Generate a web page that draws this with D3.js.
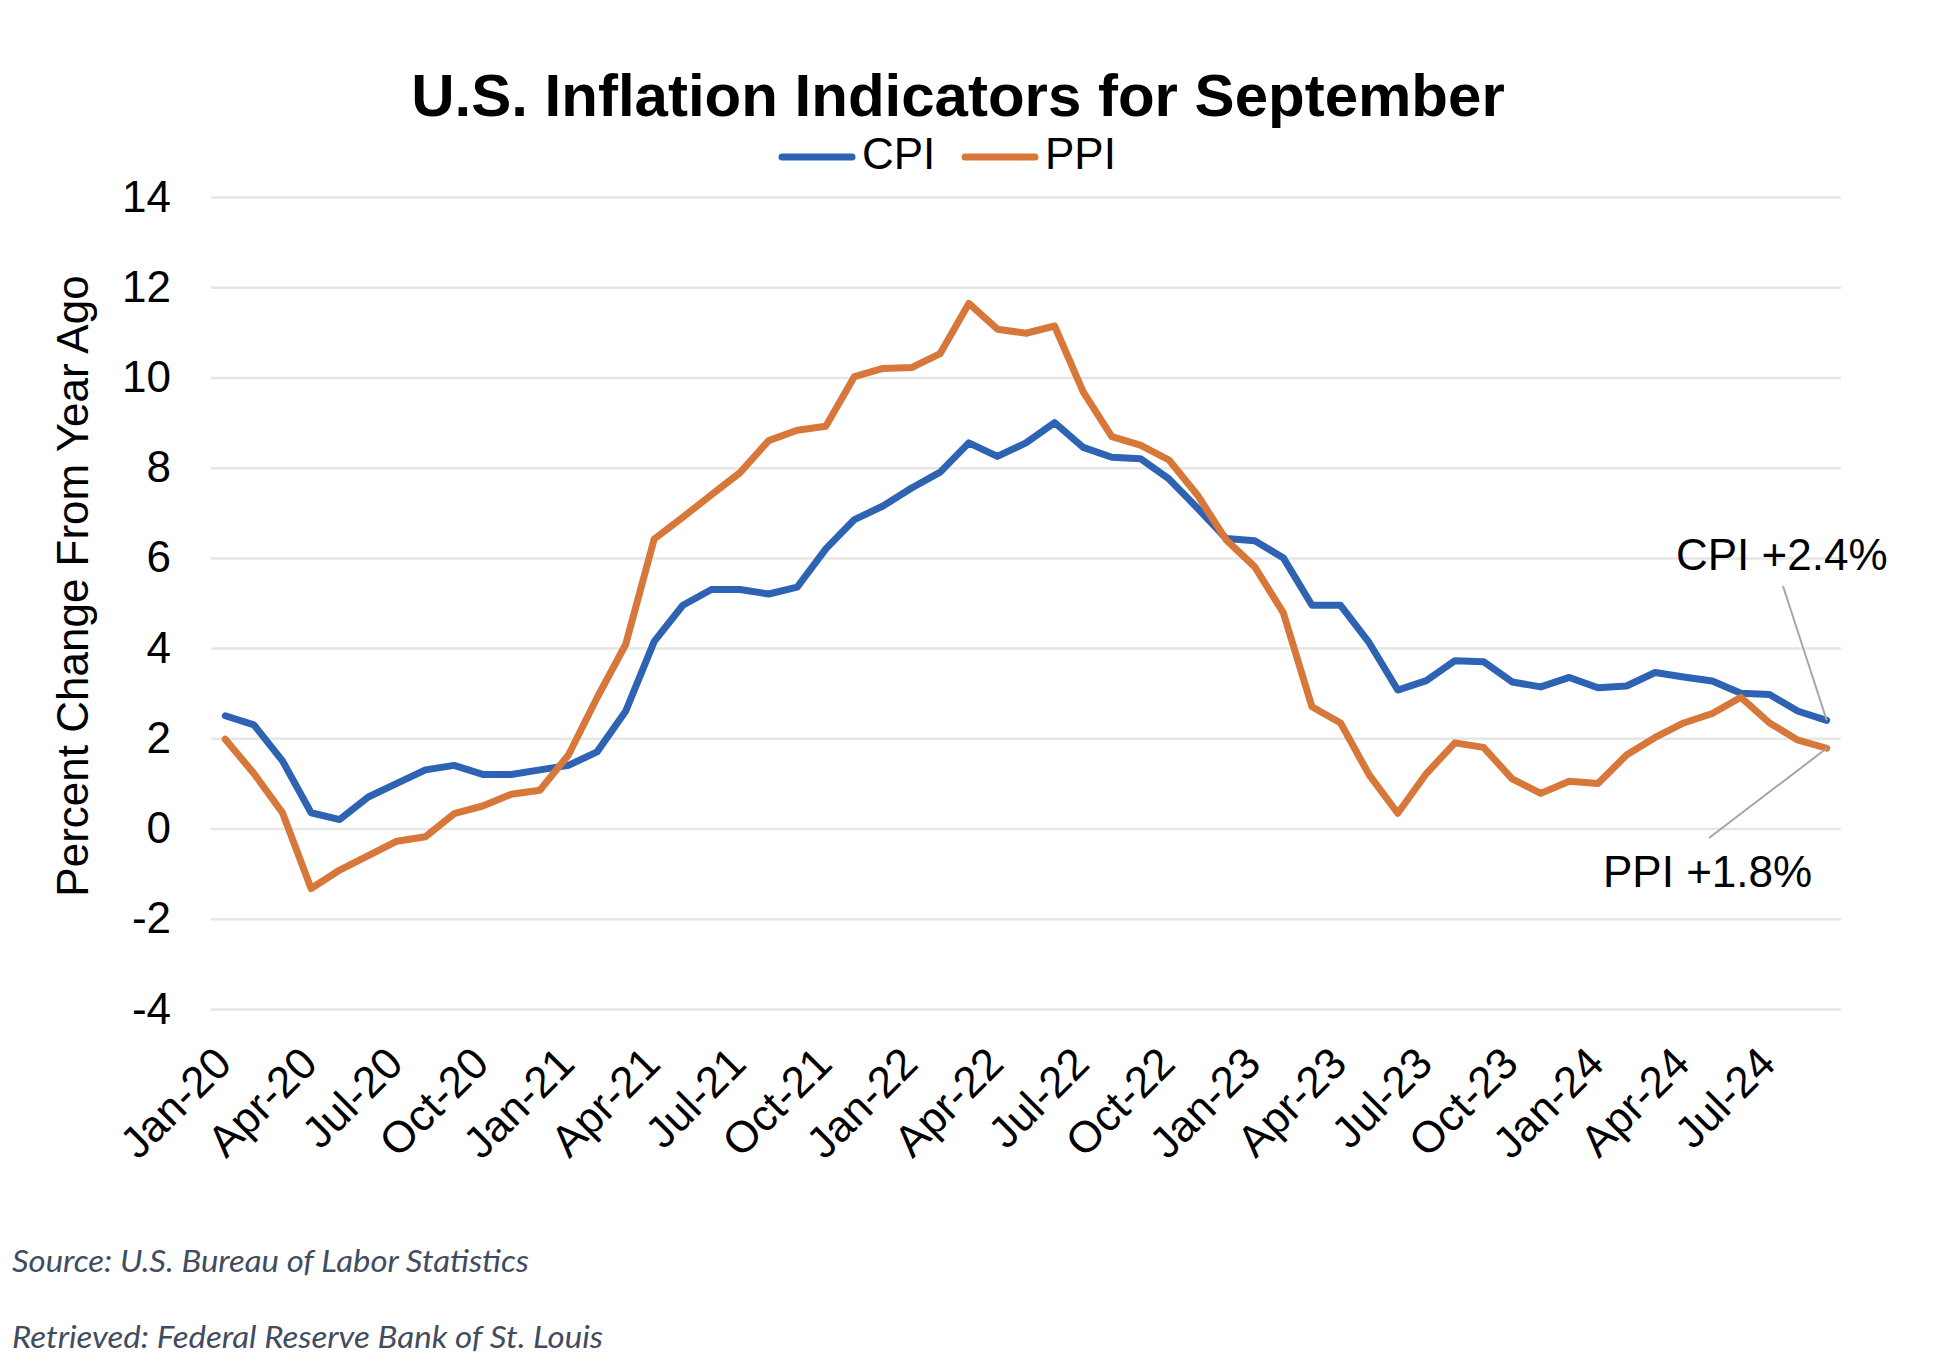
<!DOCTYPE html>
<meta charset="utf-8">
<script src="https://d3js.org/d3.v7.min.js"></script>
<style>
  body { margin: 0; background: #fff; }
  text { font-family: "Liberation Sans", Arial, Helvetica, sans-serif; }
</style>
<div id="chart"></div>
<script>

// monthly labels Jan-20 .. Sep-24
const months = [];
const yrs = ["20", "21", "22", "23", "24"];
const mnames = ["Jan","Feb","Mar","Apr","May","Jun","Jul","Aug","Sep","Oct","Nov","Dec"];
yrs.forEach(function(yy) {
    mnames.forEach(function(m) { months.push(m + "-" + yy); });
});
months.splice(57);

// year-over-year percent change
const cpi = [2.5, 2.3, 1.5, 0.35, 0.2, 0.7, 1.0, 1.3, 1.4, 1.2, 1.2, 1.3,
             1.4, 1.7, 2.6, 4.15, 4.95, 5.3, 5.3, 5.2, 5.35, 6.2, 6.85, 7.15,
             7.55, 7.9, 8.55, 8.25, 8.55, 9.0, 8.45, 8.23, 8.2, 7.75, 7.1, 6.43,
             6.38, 6.0, 4.95, 4.95, 4.12, 3.07, 3.28, 3.72, 3.7, 3.25, 3.14, 3.35,
             3.12, 3.16, 3.46, 3.36, 3.27, 3.0, 2.97, 2.6, 2.4];
const ppi = [1.98, 1.22, 0.35, -1.33, -0.92, -0.6, -0.28, -0.18, 0.33, 0.5, 0.76, 0.85,
             1.63, 2.9, 4.08, 6.42, 6.9, 7.4, 7.89, 8.6, 8.83, 8.92, 10.02, 10.2,
             10.22, 10.53, 11.64, 11.07, 10.98, 11.14, 9.68, 8.69, 8.5, 8.17, 7.39, 6.4,
             5.8, 4.78, 2.7, 2.34, 1.19, 0.34, 1.22, 1.9, 1.8, 1.1, 0.78, 1.05,
             1.0, 1.63, 2.02, 2.34, 2.55, 2.91, 2.34, 1.96, 1.78];

const xTicks = months.filter(function(d, i) { return i % 3 === 0; });
const yTicks = [-4, -2, 0, 2, 4, 6, 8, 10, 12, 14];

const series = [
    {name: "CPI", values: cpi, color: "#2e63b3"},
    {name: "PPI", values: ppi, color: "#d8773a"}
];

const W = 1938, H = 1368;
const plot = {left: 211, right: 1841, top: 197, bottom: 1009};

const svg = d3.select("#chart")
    .append("svg")
    .attr("width", W)
    .attr("height", H);

svg.append("rect").attr("width", W).attr("height", H).attr("fill", "#fff");

const x = d3.scalePoint()
    .domain(months)
    .range([plot.left, plot.right])
    .padding(0.5);

const y = d3.scaleLinear()
    .domain([-4, 14])
    .range([plot.bottom, plot.top]);

// y axis + gridlines
const yAxis = svg.append("g")
    .attr("transform", `translate(${plot.left},0)`)
    .call(d3.axisLeft(y)
        .tickValues(yTicks)
        .tickSize(-(plot.right - plot.left))
        .tickPadding(40)
        .tickFormat(function(d) { return String(d); }));
yAxis.select(".domain").remove();
yAxis.selectAll(".tick line")
    .attr("stroke", "#e6e6e6")
    .attr("stroke-width", 2.5);
yAxis.selectAll(".tick text")
    .attr("fill", "#000")
    .style("font-size", "44px")
    .style("font-family", "'Liberation Sans', Arial, sans-serif");

// x axis, rotated labels
const xAxis = svg.append("g")
    .attr("transform", `translate(0,${plot.bottom})`)
    .call(d3.axisBottom(x).tickValues(xTicks).tickSize(0));
xAxis.select(".domain").remove();
xAxis.selectAll(".tick text")
    .attr("x", 0)
    .attr("y", 0)
    .attr("dy", "0.35em")
    .attr("transform", "translate(-3,46) rotate(-45)")
    .attr("fill", "#000")
    .style("text-anchor", "end")
    .style("font-size", "44px")
    .style("font-family", "'Liberation Sans', Arial, sans-serif");

// lines
const line = d3.line()
    .x(function(d, i) { return x(months[i]); })
    .y(function(d) { return y(d); });

svg.selectAll(".series")
    .data(series)
    .join("path")
    .attr("class", "series")
    .attr("d", function(d) { return line(d.values); })
    .attr("fill", "none")
    .attr("stroke", function(d) { return d.color; })
    .attr("stroke-width", 7)
    .attr("stroke-linejoin", "round")
    .attr("stroke-linecap", "round");

// title
svg.append("text")
    .attr("x", 958)
    .attr("y", 116)
    .attr("text-anchor", "middle")
    .style("font-size", "60px")
    .style("font-weight", "bold")
    .text("U.S. Inflation Indicators for September");

// legend
const legendX = [782, 965];
series.forEach(function(s, i) {
    svg.append("line")
        .attr("x1", legendX[i]).attr("x2", legendX[i] + 70)
        .attr("y1", 157).attr("y2", 157)
        .attr("stroke", s.color)
        .attr("stroke-width", 7)
        .attr("stroke-linecap", "round");
    svg.append("text")
        .attr("x", legendX[i] + 80)
        .attr("y", 169)
        .style("font-size", "44px")
        .text(s.name);
});

// y axis title
svg.append("text")
    .attr("transform", "translate(88,586) rotate(-90)")
    .attr("text-anchor", "middle")
    .style("font-size", "44px")
    .text("Percent Change From Year Ago");

// end-point annotations
const last = months[months.length - 1];
svg.append("line")
    .attr("x1", 1783).attr("y1", 586)
    .attr("x2", x(last)).attr("y2", y(cpi[cpi.length - 1]))
    .attr("stroke", "#a6a6a6").attr("stroke-width", 2);
svg.append("line")
    .attr("x1", 1709).attr("y1", 838)
    .attr("x2", x(last)).attr("y2", y(ppi[ppi.length - 1]))
    .attr("stroke", "#a6a6a6").attr("stroke-width", 2);
svg.append("text")
    .attr("x", 1676).attr("y", 570)
    .style("font-size", "44px")
    .text("CPI +2.4%");
svg.append("text")
    .attr("x", 1603).attr("y", 887)
    .style("font-size", "44px")
    .text("PPI +1.8%");

// footer notes
svg.append("text")
    .attr("x", 12).attr("y", 1272)
    .attr("textLength", 517)
    .attr("lengthAdjust", "spacingAndGlyphs")
    .style("font-family", "Lato, 'Open Sans', sans-serif")
    .style("font-style", "italic")
    .style("font-size", "30px")
    .attr("fill", "#414c60")
    .text("Source: U.S. Bureau of Labor Statistics");
svg.append("text")
    .attr("x", 12).attr("y", 1348)
    .attr("textLength", 591)
    .attr("lengthAdjust", "spacingAndGlyphs")
    .style("font-family", "Lato, 'Open Sans', sans-serif")
    .style("font-style", "italic")
    .style("font-size", "30px")
    .attr("fill", "#414c60")
    .text("Retrieved: Federal Reserve Bank of St. Louis");

</script>
